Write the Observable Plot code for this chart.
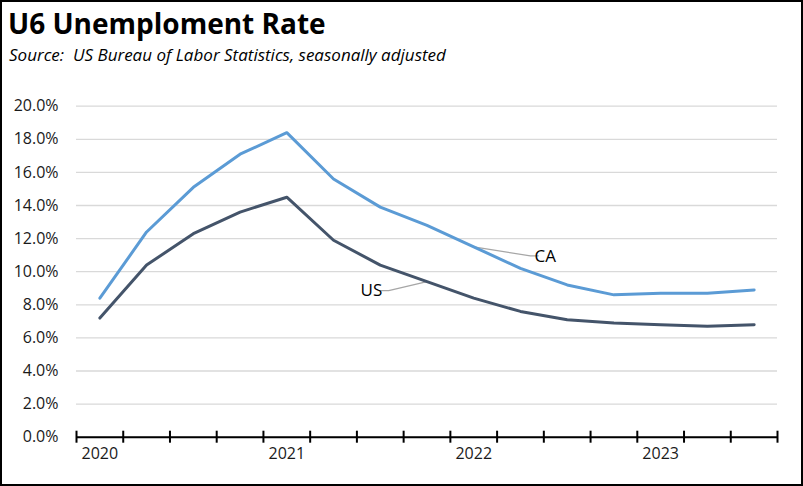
<!DOCTYPE html>
<html>
<head>
<meta charset="utf-8">
<script src="https://cdn.jsdelivr.net/npm/d3@7"></script>
<script src="https://cdn.jsdelivr.net/npm/@observablehq/plot@0.6"></script>
<style>
  body { margin: 0; background: #fff; }
  #wrap { position: relative; width: 803px; height: 486px; overflow: hidden; background: #fff; font-family: "Open Sans", sans-serif; color: #000; }
  #frame { position: absolute; left: 0; top: 0; width: 803px; height: 486px; box-sizing: border-box; border: 2px solid #000; pointer-events: none; }
  #title { position: absolute; left: 8px; top: 9px; font-weight: bold; font-size: 28px; line-height: 28px; white-space: nowrap; }
  #subtitle { position: absolute; left: 9px; top: 46px; font-style: italic; font-size: 17px; line-height: 17px; white-space: nowrap; }
  #chart { position: absolute; left: 0; top: 90px; }
</style>
</head>
<body>
<div id="wrap">
  <div id="title">U6 Unemploment Rate</div>
  <div id="subtitle">Source:&nbsp; US Bureau of Labor Statistics, seasonally adjusted</div>
  <div id="chart"></div>
  <div id="frame"></div>
</div>
<script>
// Quarterly categories
const categories = ["2020 Q1","2020 Q2","2020 Q3","2020 Q4","2021 Q1","2021 Q2","2021 Q3","2021 Q4",
                    "2022 Q1","2022 Q2","2022 Q3","2022 Q4","2023 Q1","2023 Q2","2023 Q3"];
const caValues = [8.4, 12.4, 15.1, 17.1, 18.4, 15.6, 13.9, 12.8, 11.5, 10.2, 9.2, 8.6, 8.7, 8.7, 8.9];
const usValues = [7.2, 10.4, 12.3, 13.6, 14.5, 11.9, 10.4, 9.4, 8.4, 7.6, 7.1, 6.9, 6.8, 6.7, 6.8];
const seriesNames = ["CA", "US"];
const seriesColors = ["#5B9BD5", "#44546A"];
const yTicks = [0, 2, 4, 6, 8, 10, 12, 14, 16, 18, 20];
const yearLabels = ["2020", "2021", "2022", "2023"];
const yearIndex = [0, 4, 8, 12];
// Series label annotations (data units: category index, percent)
const labelNames = ["CA", "US"];
const labelX = [9.53, 5.81];
const labelY = [10.9, 8.86];
const labelAnchor = ["start", "end"];
// Leader lines (category index, percent)
const leaderCA = [[8, 11.5], [9.21, 10.96], [9.38, 10.96]];
const leaderUS = [[5.97, 8.86], [6.18, 8.86], [7, 9.4]];

const rows = [];
categories.forEach((c, i) => {
  rows.push({series: "CA", i, cat: c, value: caValues[i]});
  rows.push({series: "US", i, cat: c, value: usValues[i]});
});
const leaders = [
  ...leaderCA.map(([x, y]) => ({series: "CA", x, y})),
  ...leaderUS.map(([x, y]) => ({series: "US", x, y}))
];
const labels = labelNames.map((t, k) => ({text: t, x: labelX[k], y: labelY[k], anchor: labelAnchor[k]}));
const boundaries = d3.range(categories.length + 1).map(k => k - 0.5);

const chart = Plot.plot({
  width: 803,
  height: 380,
  marginLeft: 76,
  marginRight: 26,
  marginTop: 15.7,
  marginBottom: 33.3,
  style: {fontFamily: "'Open Sans', sans-serif", background: "transparent", overflow: "visible"},
  x: {type: "linear", domain: [-0.5, categories.length - 0.5]},
  y: {domain: [0, 20]},
  color: {domain: seriesNames, range: seriesColors},
  marks: [
    Plot.gridY(yTicks, {stroke: "#d9d9d9", strokeOpacity: 1, strokeWidth: 1.3}),
    Plot.axisY(yTicks, {tickSize: 0, tickPadding: 18, tickFormat: d => d.toFixed(1) + "%", fontSize: 16, fill: "#1a1a1a", label: null}),
    Plot.ruleY([0], {stroke: "#000", strokeWidth: 2}),
    Plot.axisX(boundaries, {tickSize: 12, dy: -6, tickFormat: () => "", stroke: "#000", strokeWidth: 2, label: null}),
    Plot.axisX(yearIndex, {tickSize: 0, tickPadding: 10, tickFormat: (d) => yearLabels[yearIndex.indexOf(d)], fontSize: 16, fill: "#1a1a1a", label: null}),
    Plot.line(leaders, {x: "x", y: "y", z: "series", stroke: "#a6a6a6", strokeWidth: 1.3}),
    Plot.line(rows, {x: "i", y: "value", z: "series", stroke: "series", strokeWidth: 3, strokeLinejoin: "round"}),
    Plot.text(labels, {x: "x", y: "y", text: "text", textAnchor: d => d.anchor, fontSize: 17, fill: "#000"})
  ]
});
document.getElementById("chart").appendChild(chart);
</script>
</body>
</html>
